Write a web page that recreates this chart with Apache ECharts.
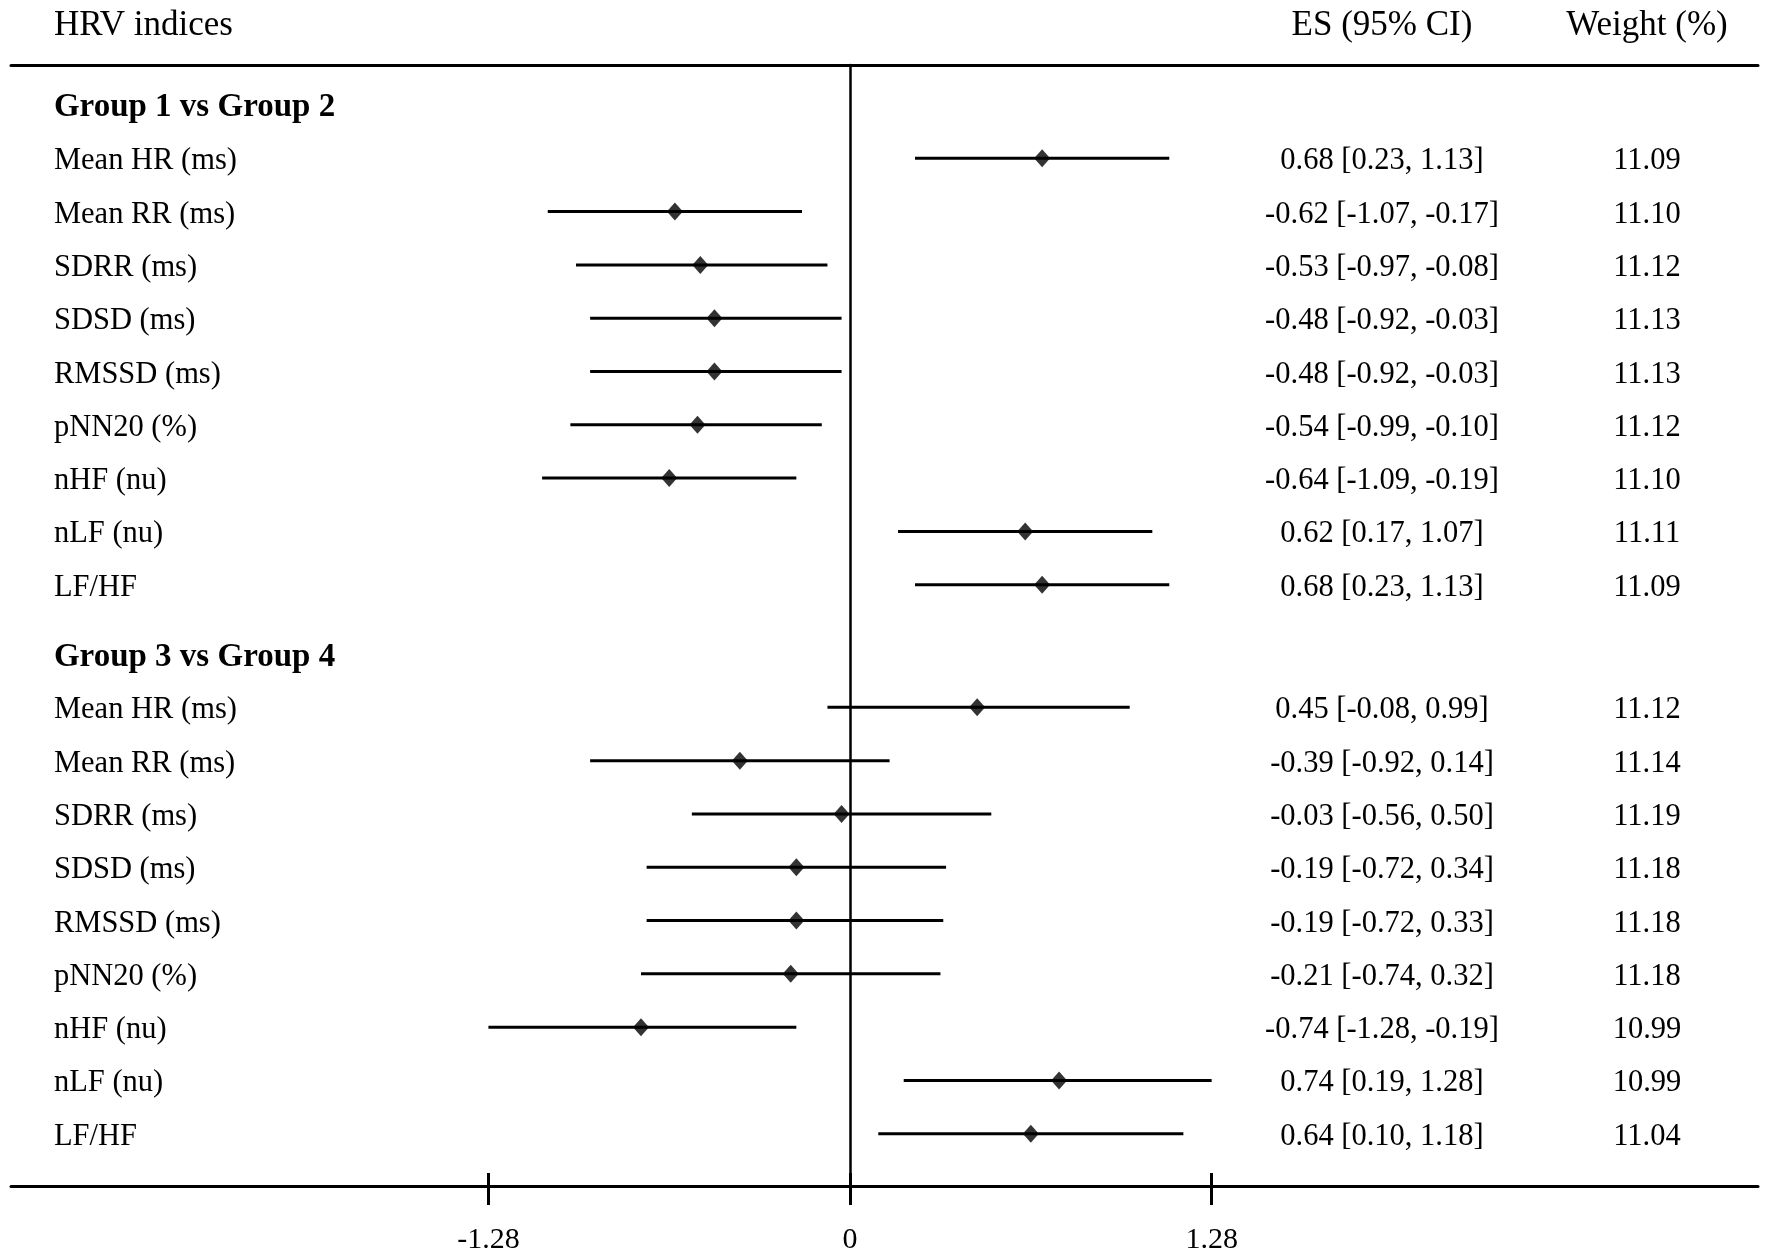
<!DOCTYPE html>
<html>
<head>
<meta charset="utf-8">
<title>HRV forest plot</title>
<script src="https://cdn.jsdelivr.net/npm/echarts@6/dist/echarts.min.js"></script>
<style>
  html, body { margin: 0; padding: 0; background: #fff; }
  #chart { width: 1771px; height: 1256px; }
</style>
</head>
<body>
<div id="chart"></div>
<script>
// ---- data ----
const indices = ['Mean HR (ms)', 'Mean RR (ms)', 'SDRR (ms)', 'SDSD (ms)', 'RMSSD (ms)',
  'pNN20 (%)', 'nHF (nu)', 'nLF (nu)', 'LF/HF'];
const groupNames = ['Group 1 vs Group 2', 'Group 3 vs Group 4'];

const es1 = [0.68, -0.62, -0.53, -0.48, -0.48, -0.54, -0.64, 0.62, 0.68];
const lo1 = [0.23, -1.07, -0.97, -0.92, -0.92, -0.99, -1.09, 0.17, 0.23];
const hi1 = [1.13, -0.17, -0.08, -0.03, -0.03, -0.10, -0.19, 1.07, 1.13];
const w1 = [11.09, 11.10, 11.12, 11.13, 11.13, 11.12, 11.10, 11.11, 11.09];

const es2 = [0.45, -0.39, -0.03, -0.19, -0.19, -0.21, -0.74, 0.74, 0.64];
const lo2 = [-0.08, -0.92, -0.56, -0.72, -0.72, -0.74, -1.28, 0.19, 0.10];
const hi2 = [0.99, 0.14, 0.50, 0.34, 0.33, 0.32, -0.19, 1.28, 1.18];
const w2 = [11.12, 11.14, 11.19, 11.18, 11.18, 11.18, 10.99, 10.99, 11.04];

const tickValues = [-1.28, 0, 1.28];

// ---- layout (row units on the y axis, effect size units on the x axis) ----
const FONT = "'Liberation Serif', 'Times New Roman', serif";
const headerY = [0.74, 11.05];
const rowStart = [1.75, 12.05];
const xMin = -2.970, xMax = 3.214;
const labelX = -2.818, esX = 1.883, weightX = 2.821;
const textShift = 3; // text sits a little below the CI line

const groups = [
  { es: es1, lo: lo1, hi: hi1, w: w1 },
  { es: es2, lo: lo2, hi: hi2, w: w2 }
];

const rows = [];
const texts = [];
groups.forEach((g, gi) => {
  texts.push({ x: labelX, y: headerY[gi], text: groupNames[gi], align: 'left', bold: true });
  indices.forEach((name, i) => {
    const y = rowStart[gi] + i;
    rows.push({ es: g.es[i], lo: g.lo[i], hi: g.hi[i], y: y });
    texts.push({ x: labelX, y: y, text: name, align: 'left' });
    texts.push({
      x: esX, y: y, align: 'center',
      text: g.es[i].toFixed(2) + ' [' + g.lo[i].toFixed(2) + ', ' + g.hi[i].toFixed(2) + ']'
    });
    texts.push({ x: weightX, y: y, text: g.w[i].toFixed(2), align: 'center' });
  });
});

const chart = echarts.init(document.getElementById('chart'));

const headFont = '35px ' + FONT;
const option = {
  animation: false,
  backgroundColor: '#fff',
  grid: { left: 11, right: 13, top: 65, bottom: 70 },
  graphic: [
    { type: 'text', x: 54, y: 26, style: { text: 'HRV indices', font: headFont, fill: '#000', align: 'left', verticalAlign: 'middle' } },
    { type: 'text', x: 1382, y: 26, style: { text: 'ES (95% CI)', font: headFont, fill: '#000', align: 'center', verticalAlign: 'middle' } },
    { type: 'text', x: 1647, y: 26, style: { text: 'Weight (%)', font: headFont, fill: '#000', align: 'center', verticalAlign: 'middle' } }
  ],
  xAxis: [
    {
      type: 'value', position: 'bottom', min: xMin, max: xMax,
      axisLine: { onZero: false, lineStyle: { color: '#000', width: 3 } },
      axisTick: { show: true, inside: false, length: 19, customValues: tickValues, lineStyle: { color: '#000', width: 3 } },
      axisLabel: {
        customValues: tickValues, margin: 39, color: '#000', fontSize: 30, fontFamily: FONT,
        formatter: v => (v === 0 ? '0' : v.toFixed(2))
      },
      splitLine: { show: false }
    },
    {
      type: 'value', position: 'bottom', min: xMin, max: xMax,
      axisLine: { show: false, onZero: false },
      axisTick: { show: true, inside: true, length: 13, customValues: tickValues, lineStyle: { color: '#000', width: 3 } },
      axisLabel: { show: false },
      splitLine: { show: false }
    },
    {
      type: 'value', position: 'top', min: xMin, max: xMax,
      axisLine: { onZero: false, lineStyle: { color: '#000', width: 3 } },
      axisTick: { show: false },
      axisLabel: { show: false },
      splitLine: { show: false }
    }
  ],
  yAxis: {
    type: 'value', inverse: true, min: 0, max: 21.03,
    axisLine: { show: true, onZero: true, onZeroAxisIndex: 0, lineStyle: { color: '#000', width: 2.5 } },
    axisTick: { show: false },
    axisLabel: { show: false },
    splitLine: { show: false }
  },
  series: [
    {
      name: 'CI',
      type: 'custom',
      silent: true,
      encode: { x: [0, 1], y: 2 },
      data: rows.map(r => [r.lo, r.hi, r.y]),
      renderItem: function (params, api) {
        const p1 = api.coord([api.value(0), api.value(2)]);
        const p2 = api.coord([api.value(1), api.value(2)]);
        return {
          type: 'line',
          shape: { x1: p1[0], y1: p1[1], x2: p2[0], y2: p2[1] },
          style: { stroke: '#000', lineWidth: 3 }
        };
      }
    },
    {
      name: 'ES',
      type: 'scatter',
      silent: true,
      symbol: 'diamond',
      symbolSize: [16, 18],
      itemStyle: { color: '#000' },
      data: rows.map(r => [r.es, r.y])
    },
    {
      name: 'text',
      type: 'custom',
      silent: true,
      data: texts.map(t => [t.x, t.y]),
      renderItem: function (params, api) {
        const t = texts[params.dataIndex];
        const p = api.coord([api.value(0), api.value(1)]);
        return {
          type: 'text',
          x: p[0],
          y: p[1] + textShift,
          style: {
            text: t.text,
            fill: '#000',
            font: (t.bold ? 'bold 33px ' : '30.5px ') + FONT,
            align: t.align,
            verticalAlign: 'middle'
          }
        };
      }
    }
  ]
};

chart.setOption(option);
</script>
</body>
</html>
